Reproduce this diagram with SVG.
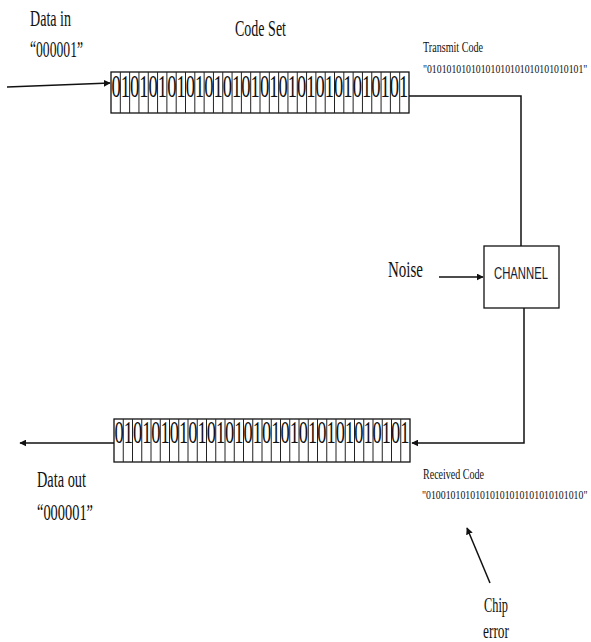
<svg xmlns="http://www.w3.org/2000/svg" width="591" height="642" viewBox="0 0 591 642">
<style>
.t{font-family:"Liberation Serif","Times New Roman",serif;fill:#111}
.s{font-family:"Liberation Sans",Arial,sans-serif;fill:#1a1a2e}
.ln{stroke:#111;stroke-width:1.5;fill:none}
.box{stroke:#111;stroke-width:1.3;fill:#fff}
.cell{stroke:#222;stroke-width:1;fill:none}
</style>
<defs>
<marker id="ah" viewBox="0 0 10 10" refX="9" refY="5" markerWidth="7" markerHeight="7" markerUnits="userSpaceOnUse" orient="auto">
<path d="M0,0 L10,5 L0,10 z" fill="#111"/>
</marker>
</defs>
<rect width="591" height="642" fill="#fff"/>

<g id="labels">
<text class="t" x="30" y="26" font-size="23" textLength="41" lengthAdjust="spacingAndGlyphs">Data in</text>
<text class="t" x="30" y="57" font-size="23" textLength="53" lengthAdjust="spacingAndGlyphs">“000001”</text>
<text class="t" x="235" y="36" font-size="23" textLength="51" lengthAdjust="spacingAndGlyphs">Code Set</text>
<text class="t" x="423" y="52" font-size="14" textLength="60" lengthAdjust="spacingAndGlyphs">Transmit Code</text>
<text class="t" transform="translate(423,73) scale(0.815,1)" font-size="12">"01010101010101010101010101010101"</text>
<text class="t" x="388" y="277" font-size="23" textLength="35" lengthAdjust="spacingAndGlyphs">Noise</text>
<text class="t" x="37" y="487" font-size="23" textLength="49" lengthAdjust="spacingAndGlyphs">Data out</text>
<text class="t" x="37" y="520" font-size="23" textLength="56" lengthAdjust="spacingAndGlyphs">“000001”</text>
<text class="t" x="423" y="479" font-size="14" textLength="61" lengthAdjust="spacingAndGlyphs">Received Code</text>
<text class="t" transform="translate(422,499) scale(0.82,1)" font-size="12">"01001010101010101010101010101010"</text>
<text class="t" x="484" y="612" font-size="21" textLength="24" lengthAdjust="spacingAndGlyphs">Chip</text>
<text class="t" x="483" y="638" font-size="21" textLength="26" lengthAdjust="spacingAndGlyphs">error</text>
</g>

<g id="codeset-tx">
<rect class="box" x="111" y="72" width="298" height="41"/>
<path class="cell" d="M120.3125 72 v41 m9.3125 -41 v41 m9.3125 -41 v41 m9.3125 -41 v41 m9.3125 -41 v41 m9.3125 -41 v41 m9.3125 -41 v41 m9.3125 -41 v41 m9.3125 -41 v41 m9.3125 -41 v41 m9.3125 -41 v41 m9.3125 -41 v41 m9.3125 -41 v41 m9.3125 -41 v41 m9.3125 -41 v41 m9.3125 -41 v41 m9.3125 -41 v41 m9.3125 -41 v41 m9.3125 -41 v41 m9.3125 -41 v41 m9.3125 -41 v41 m9.3125 -41 v41 m9.3125 -41 v41 m9.3125 -41 v41 m9.3125 -41 v41 m9.3125 -41 v41 m9.3125 -41 v41 m9.3125 -41 v41 m9.3125 -41 v41 m9.3125 -41 v41 m9.3125 -41 v41"/>
<text class="t" transform="translate(111.5,97) scale(0.5988,1)" font-size="31">01010101010101010101010101010101</text>
</g>

<g id="channel">
<rect class="box" x="484" y="246" width="75" height="62"/>
<text class="s" x="494" y="279" font-size="17" textLength="54" lengthAdjust="spacingAndGlyphs">CHANNEL</text>
</g>

<g id="codeset-rx">
<rect class="box" x="114" y="419" width="296" height="43"/>
<path class="cell" d="M123.25 419 v43 m9.25 -43 v43 m9.25 -43 v43 m9.25 -43 v43 m9.25 -43 v43 m9.25 -43 v43 m9.25 -43 v43 m9.25 -43 v43 m9.25 -43 v43 m9.25 -43 v43 m9.25 -43 v43 m9.25 -43 v43 m9.25 -43 v43 m9.25 -43 v43 m9.25 -43 v43 m9.25 -43 v43 m9.25 -43 v43 m9.25 -43 v43 m9.25 -43 v43 m9.25 -43 v43 m9.25 -43 v43 m9.25 -43 v43 m9.25 -43 v43 m9.25 -43 v43 m9.25 -43 v43 m9.25 -43 v43 m9.25 -43 v43 m9.25 -43 v43 m9.25 -43 v43 m9.25 -43 v43 m9.25 -43 v43"/>
<text class="t" transform="translate(114.5,443) scale(0.5948,1)" font-size="31">01010101010101010101010101010101</text>
</g>

<g id="connectors">
<line class="ln" x1="7" y1="87" x2="110" y2="83" marker-end="url(#ah)"/>
<polyline class="ln" points="409,96 521,96 521,246"/>
<line class="ln" x1="439" y1="277" x2="483" y2="277" marker-end="url(#ah)"/>
<polyline class="ln" points="524,308 524,443 412,443" marker-end="url(#ah)"/>
<line class="ln" x1="114" y1="443" x2="20" y2="443" marker-end="url(#ah)"/>
<line class="ln" x1="490" y1="583" x2="467" y2="528" marker-end="url(#ah)"/>
</g>
</svg>
